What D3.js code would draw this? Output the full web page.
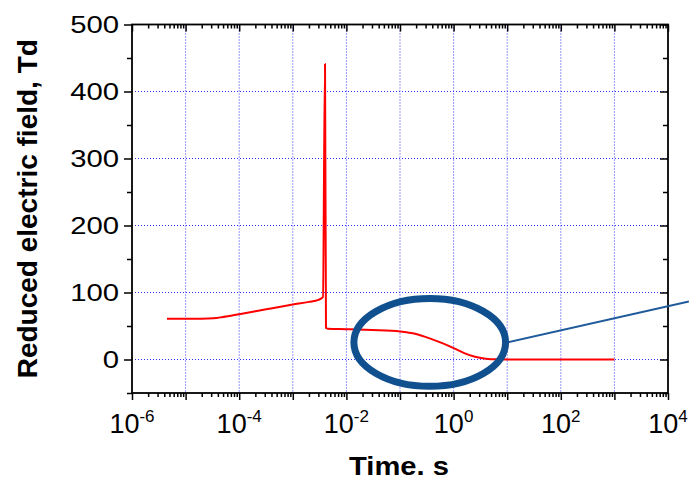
<!DOCTYPE html>
<html>
<head>
<meta charset="utf-8">
<script src="https://cdn.jsdelivr.net/npm/d3@7"></script>
<style>
  body { margin: 0; background: #fff; }
  svg { display: block; font-family: "Liberation Sans", Arial, sans-serif; }
</style>
</head>
<body>
<div id="chart"></div>
<script>
// curve: time (s) and reduced electric field (Td)
var times  = [4.5e-6, 1e-5, 2e-5, 3.3e-5, 5e-5, 1e-4, 3.2e-4, 1e-3, 2e-3, 3e-3, 3.65e-3,
              3.99e-3, 4.16e-3, 4.5e-3, 1e-2, 3e-2, 1e-1, 0.2, 0.4, 0.63, 1, 1.58, 2.5, 4, 6.3, 10, 100, 1000];
var fields = [61, 61, 61, 61.5, 63.5, 67.7, 75, 82, 86, 89, 93,
              441, 47, 46, 45.3, 44, 41.8, 38, 30, 24, 17, 9.5, 4, 1.2, 0.2, 0, 0, 0];

// axis ticks
var xMajor = [1e-6, 1e-5, 1e-4, 1e-3, 1e-2, 1e-1, 1, 10, 100, 1000, 1e4];
var xLabelExp = [-6, -4, -2, 0, 2, 4];
var yMajor = [0, 100, 200, 300, 400, 500];
var yMinor = [-50, 50, 150, 250, 350, 450];

// highlight ellipse (time / field extent) and its pointer line end
var ellipseT = [10 ** -1.86, 10 ** 0.97];
var ellipseF = [-40, 91];
var pointerEnd = [10 ** 4.39, 86.6];

var W = 689, H = 480;
var margin = {top: 24.5, right: 21, bottom: 87, left: 132};

var svg = d3.select("#chart").append("svg")
  .attr("width", W)
  .attr("height", H);

var x = d3.scaleLog()
  .domain([1e-6, 1e4])
  .range([margin.left, W - margin.right]);

var y = d3.scaleLinear()
  .domain([-50, 500])
  .range([H - margin.bottom, margin.top]);

var x0 = x.range()[0], x1 = x.range()[1];
var yTop = y.range()[1], yBot = y.range()[0];

// dotted blue grid
svg.append("g").selectAll("line")
  .data(xMajor.slice(1, -1))
  .enter().append("line")
  .attr("x1", d => x(d)).attr("x2", d => x(d))
  .attr("y1", yTop).attr("y2", yBot)
  .attr("stroke", "#2f2fff").attr("stroke-width", 1)
  .attr("stroke-dasharray", "1,2");

svg.append("g").selectAll("line")
  .data(yMajor.slice(0, -1))
  .enter().append("line")
  .attr("x1", x0).attr("x2", x1)
  .attr("y1", d => y(d)).attr("y2", d => y(d))
  .attr("stroke", "#2f2fff").attr("stroke-width", 1)
  .attr("stroke-dasharray", "1,2");

// minor decade ticks
var xMinor = [];
xMajor.slice(0, -1).forEach(function(d) {
  for (var k = 2; k <= 9; k++) xMinor.push(d * k);
});

// bottom (outward) and top (inward) axes
svg.append("g")
  .attr("transform", "translate(0," + yBot + ")")
  .call(d3.axisBottom(x).tickValues(xMajor).tickFormat("").tickSize(7).tickSizeOuter(0));
svg.append("g")
  .attr("transform", "translate(0," + yBot + ")")
  .call(d3.axisBottom(x).tickValues(xMinor).tickFormat("").tickSize(4).tickSizeOuter(0));
svg.append("g")
  .attr("transform", "translate(0," + yTop + ")")
  .call(d3.axisBottom(x).tickValues(xMajor).tickFormat("").tickSize(7).tickSizeOuter(0));
svg.append("g")
  .attr("transform", "translate(0," + yTop + ")")
  .call(d3.axisBottom(x).tickValues(xMinor).tickFormat("").tickSize(4).tickSizeOuter(0));

// left (outward) and right (inward) axes
svg.append("g")
  .attr("transform", "translate(" + x0 + ",0)")
  .call(d3.axisLeft(y).tickValues(yMajor).tickFormat("").tickSize(8).tickSizeOuter(0));
svg.append("g")
  .attr("transform", "translate(" + x0 + ",0)")
  .call(d3.axisLeft(y).tickValues(yMinor).tickFormat("").tickSize(5).tickSizeOuter(0));
svg.append("g")
  .attr("transform", "translate(" + x1 + ",0)")
  .call(d3.axisLeft(y).tickValues(yMajor).tickFormat("").tickSize(8).tickSizeOuter(0));
svg.append("g")
  .attr("transform", "translate(" + x1 + ",0)")
  .call(d3.axisLeft(y).tickValues(yMinor).tickFormat("").tickSize(5).tickSizeOuter(0));

svg.selectAll(".domain").remove();
svg.selectAll(".tick line").attr("stroke", "#000").attr("stroke-width", 1.5);

// frame
svg.append("rect")
  .attr("x", x0).attr("y", yTop)
  .attr("width", x1 - x0).attr("height", yBot - yTop)
  .attr("fill", "none").attr("stroke", "#000").attr("stroke-width", 1.8);

// x tick labels 10^n
var xl = svg.append("g").selectAll("text")
  .data(xLabelExp)
  .enter().append("text")
  .attr("x", d => x(10 ** d))
  .attr("y", 432.7)
  .attr("text-anchor", "middle")
  .attr("font-size", 27)
  .attr("fill", "#000");
xl.append("tspan").text("10");
xl.append("tspan")
  .attr("font-size", 17)
  .attr("dy", -11)
  .text(d => d < 0 ? "-" + (-d) : d);

// y tick labels
svg.append("g").selectAll("text")
  .data(yMajor)
  .enter().append("text")
  .attr("transform", d => "translate(119," + y(d) + ") scale(1.22,1)")
  .attr("dy", "0.35em")
  .attr("text-anchor", "end")
  .attr("font-size", 24)
  .attr("fill", "#000")
  .text(d => d);

// axis titles
svg.append("text")
  .attr("transform", "translate(36.5," + ((yTop + yBot) / 2) + ") rotate(-90)")
  .attr("text-anchor", "middle")
  .attr("font-size", 28)
  .attr("font-weight", "bold")
  .text("Reduced electric field, Td");

svg.append("text")
  .attr("transform", "translate(399,474.5) scale(1.1,1)")
  .attr("text-anchor", "middle")
  .attr("font-size", 26.5)
  .attr("font-weight", "bold")
  .text("Time. s");

// red curve
var pts = times.map((t, i) => [t, fields[i]]);
svg.append("path")
  .datum(pts)
  .attr("fill", "none")
  .attr("stroke", "#ff0000")
  .attr("stroke-width", 2)
  .attr("stroke-linejoin", "round")
  .attr("d", d3.line()
    .x(d => x(d[0]))
    .y(d => y(d[1]))
    .curve(d3.curveMonotoneX));

// highlight ellipse + pointer line
var ex0 = x(ellipseT[0]), ex1 = x(ellipseT[1]);
var ey0 = y(ellipseF[1]), ey1 = y(ellipseF[0]);
var cx = (ex0 + ex1) / 2, cy = (ey0 + ey1) / 2;
var rx = (ex1 - ex0) / 2, ry = (ey1 - ey0) / 2;

svg.append("line")
  .attr("x1", ex1 + 2).attr("y1", cy)
  .attr("x2", x(pointerEnd[0])).attr("y2", y(pointerEnd[1]))
  .attr("stroke", "#1f5a9a").attr("stroke-width", 2);

svg.append("ellipse")
  .attr("cx", cx).attr("cy", cy)
  .attr("rx", rx).attr("ry", ry)
  .attr("fill", "none")
  .attr("stroke", "#11508f")
  .attr("stroke-width", 7);
</script>
</body>
</html>
